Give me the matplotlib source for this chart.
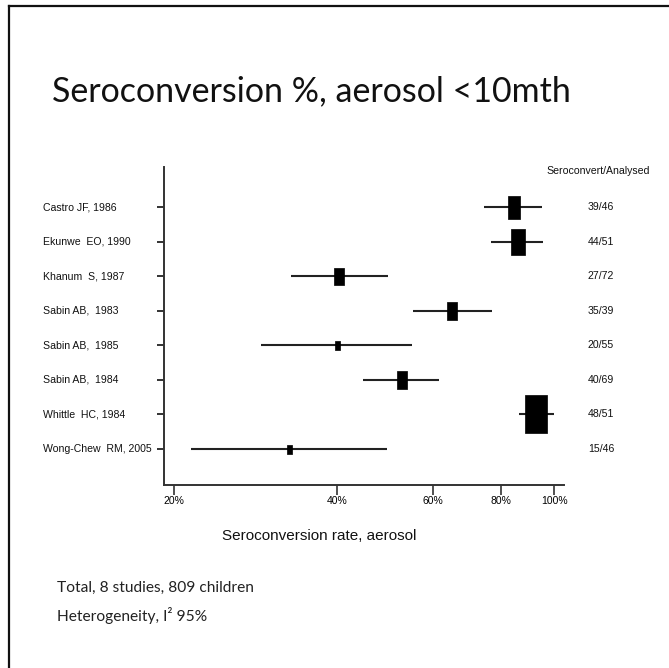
import matplotlib
matplotlib.use("Agg")
import numpy as np
import matplotlib.pyplot as plt
from matplotlib.path import Path
from matplotlib.lines import Line2D
from matplotlib.transforms import blended_transform_factory

# study rows, top to bottom
studies = ["Castro JF, 1986", "Ekunwe  EO, 1990", "Khanum  S, 1987", "Sabin AB,  1983",
           "Sabin AB,  1985", "Sabin AB,  1984", "Whittle  HC, 1984", "Wong-Chew  RM, 2005"]
counts = ["39/46", "44/51", "27/72", "35/39", "20/55", "40/69", "48/51", "15/46"]
estimate = [84.5, 85.9, 40.3, 65.0, 40.0, 52.6, 92.7, 32.6]
ci_low = [74.4, 76.7, 32.9, 55.1, 28.9, 44.6, 86.3, 21.5]
ci_high = [95.1, 95.5, 49.6, 76.9, 54.9, 61.5, 100.0, 49.4]
weight = [23, 26, 17, 18, 9, 18, 38, 9]   # relative box size
xticks = [20, 40, 60, 80, 100]

NARROW = "Liberation Sans"
W, H = 669, 668
fig = plt.figure(figsize=(W / 100, H / 100), dpi=100)
fig.patch.set_facecolor("white")

# slide frame (only left and top edges show)
fig.add_artist(Line2D([8.5 / W, 8.5 / W], [0, 1 - 6 / H], transform=fig.transFigure, color="#111", lw=1.6))
fig.add_artist(Line2D([8.5 / W, 1], [1 - 6 / H, 1 - 6 / H], transform=fig.transFigure, color="#111", lw=1.6))

fig.text(52 / W, 1 - 91 / H, "Seroconversion %, aerosol <10mth", family="Lato",
         fontsize=24.5, va="center", ha="left", color="#111")

ax = fig.add_axes([164 / W, 1 - 485 / H, 400 / W, 318 / H])
ax.set_xscale("log")
ax.set_xlim(19.2, 104.3)
ax.set_ylim(8.04, -1.157)

y = np.arange(len(studies))
ax.hlines(y, ci_low, ci_high, color="#222", lw=1.5)

box = Path([(-0.5, -0.9), (0.5, -0.9), (0.5, 0.9), (-0.5, 0.9), (-0.5, -0.9)],
           [Path.MOVETO, Path.LINETO, Path.LINETO, Path.LINETO, Path.CLOSEPOLY])
for yi, est, w in zip(y, estimate, weight):
    ax.plot(est, yi, marker=box, markersize=w * 0.72, color="black", mec="black", mew=0.5)

for s in ["top", "right"]:
    ax.spines[s].set_visible(False)
for s in ["left", "bottom"]:
    ax.spines[s].set_color("#333")
    ax.spines[s].set_linewidth(1.4)

ax.set_yticks(y)
ax.set_yticklabels([])
ax.tick_params(axis="y", length=5, width=1.4, color="#333")
ax.set_xticks(xticks)
ax.set_xticklabels([f"{t}%" for t in xticks], family=NARROW, fontsize=7.5)
ax.xaxis.set_minor_locator(plt.NullLocator())
ax.tick_params(axis="x", length=7, width=1.2, color="#333", pad=1)

# labels: figure position horizontally, row position vertically
tr = blended_transform_factory(fig.transFigure, ax.transData)
for yi, name, c in zip(y, studies, counts):
    ax.text(43 / W, yi, name, transform=tr, ha="left", va="center",
            family=NARROW, fontsize=7.6, color="#111")
    ax.text(588 / W, yi, c, transform=tr, ha="left", va="center",
            family=NARROW, fontsize=7.6, color="#111")
ax.text(546 / W, -1.04, "Seroconvert/Analysed", transform=tr, ha="left", va="center",
        family=NARROW, fontsize=7.6, color="#111")

fig.text(222 / W, 1 - 536 / H, "Seroconversion rate, aerosol", family=NARROW,
         fontsize=11, ha="left", va="center", color="#111")

fig.text(57 / W, 1 - 588 / H, "Total, 8 studies, 809 children", family="Lato",
         fontsize=11.2, ha="left", va="center", color="#222")
fig.text(57 / W, 1 - 616 / H, "Heterogeneity, I² 95%", family="Lato",
         fontsize=11.2, ha="left", va="center", color="#222")

fig.savefig("out.png", dpi=100, facecolor="white")
